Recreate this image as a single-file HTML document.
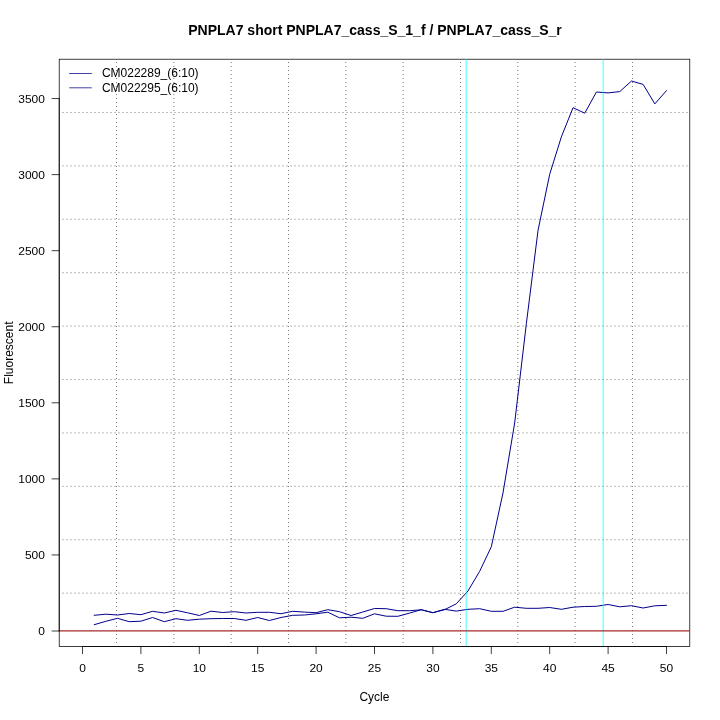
<!DOCTYPE html>
<html><head><meta charset="utf-8"><title>plot</title>
<style>
html,body{margin:0;padding:0;background:#fff;}
svg{display:block;will-change:transform}
text{font-family:"Liberation Sans",sans-serif;fill:#000}
</style></head><body>
<svg width="720" height="720" viewBox="0 0 720 720">
<rect width="720" height="720" fill="#fff"/>
<rect x="59.22" y="59.22" width="630.56" height="587.28" fill="none" stroke="#000" stroke-width="0.75"/>
<g stroke="#4a4a4a" stroke-width="0.75" stroke-dasharray="1 3" fill="none"><line x1="116.54" y1="59.04" x2="116.54" y2="646.56" stroke-dashoffset="1.04"/><line x1="173.87" y1="59.04" x2="173.87" y2="646.56" stroke-dashoffset="1.04"/><line x1="231.19" y1="59.04" x2="231.19" y2="646.56" stroke-dashoffset="1.04"/><line x1="288.51" y1="59.04" x2="288.51" y2="646.56" stroke-dashoffset="1.04"/><line x1="345.84" y1="59.04" x2="345.84" y2="646.56" stroke-dashoffset="1.04"/><line x1="403.16" y1="59.04" x2="403.16" y2="646.56" stroke-dashoffset="1.04"/><line x1="460.49" y1="59.04" x2="460.49" y2="646.56" stroke-dashoffset="1.04"/><line x1="517.81" y1="59.04" x2="517.81" y2="646.56" stroke-dashoffset="1.04"/><line x1="575.13" y1="59.04" x2="575.13" y2="646.56" stroke-dashoffset="1.04"/><line x1="632.46" y1="59.04" x2="632.46" y2="646.56" stroke-dashoffset="1.04"/><line x1="59.04" y1="112.45" x2="689.76" y2="112.45" stroke-dashoffset="0.54"/><line x1="59.04" y1="165.86" x2="689.76" y2="165.86" stroke-dashoffset="0.54"/><line x1="59.04" y1="219.27" x2="689.76" y2="219.27" stroke-dashoffset="0.54"/><line x1="59.04" y1="272.68" x2="689.76" y2="272.68" stroke-dashoffset="0.54"/><line x1="59.04" y1="326.09" x2="689.76" y2="326.09" stroke-dashoffset="0.54"/><line x1="59.04" y1="379.51" x2="689.76" y2="379.51" stroke-dashoffset="0.54"/><line x1="59.04" y1="432.92" x2="689.76" y2="432.92" stroke-dashoffset="0.54"/><line x1="59.04" y1="486.33" x2="689.76" y2="486.33" stroke-dashoffset="0.54"/><line x1="59.04" y1="539.74" x2="689.76" y2="539.74" stroke-dashoffset="0.54"/><line x1="59.04" y1="593.15" x2="689.76" y2="593.15" stroke-dashoffset="0.54"/></g>
<path d="M94.18,615.30 L105.86,614.20 L117.54,615.00 L129.22,613.50 L140.90,614.70 L152.58,611.30 L164.26,613.00 L175.94,610.30 L187.62,612.80 L199.30,615.50 L210.98,611.20 L222.66,612.50 L234.34,611.70 L246.02,613.00 L257.70,612.30 L269.38,612.30 L281.06,613.70 L292.74,611.30 L304.42,612.10 L316.10,612.70 L327.78,609.70 L339.46,611.70 L351.14,615.50 L362.82,612.00 L374.50,608.50 L386.18,608.70 L397.86,610.70 L409.54,610.70 L421.22,609.80 L432.90,612.70 L444.58,609.30 L456.26,611.10 L467.94,609.30 L479.62,608.70 L491.30,611.30 L502.98,611.30 L514.66,607.20 L526.34,608.30 L538.02,608.30 L549.70,607.50 L561.38,609.30 L573.06,607.20 L584.74,606.50 L596.42,606.30 L608.10,604.50 L619.78,606.80 L631.46,605.70 L643.14,608.00 L654.82,605.80 L666.50,605.30" fill="none" stroke="#00008B" stroke-width="1" stroke-linejoin="round" stroke-linecap="round"/>
<path d="M94.18,624.70 L105.86,621.30 L117.54,618.30 L129.22,621.70 L140.90,621.20 L152.58,617.50 L164.26,621.70 L175.94,618.70 L187.62,620.30 L199.30,619.20 L210.98,618.70 L222.66,618.50 L234.34,618.50 L246.02,620.30 L257.70,617.50 L269.38,620.50 L281.06,617.50 L292.74,615.30 L304.42,615.00 L316.10,613.80 L327.78,612.20 L339.46,617.80 L351.14,617.20 L362.82,618.30 L374.50,613.80 L386.18,616.20 L397.86,616.30 L409.54,613.10 L421.22,609.70 L432.90,612.70 L444.58,609.70 L456.26,603.80 L467.94,591.00 L479.62,571.40 L491.30,546.80 L502.98,493.00 L514.66,423.00 L526.34,323.80 L538.02,230.40 L549.70,174.30 L561.38,136.80 L573.06,107.70 L584.74,113.20 L596.42,92.00 L608.10,92.90 L619.78,91.60 L631.46,81.00 L643.14,84.40 L654.82,103.90 L666.50,90.60" fill="none" stroke="#00008B" stroke-width="1" stroke-linejoin="round" stroke-linecap="round"/>
<g stroke="#00FFFF" stroke-width="0.75"><line x1="466.15" y1="59.04" x2="466.15" y2="646.56"/><line x1="603.15" y1="59.04" x2="603.15" y2="646.56"/></g>
<line x1="58.64" y1="630.78" x2="689.76" y2="630.78" stroke="#A52A2A" stroke-width="1.2"/>
<g stroke="#000" stroke-width="0.75" fill="none" stroke-linecap="round"><line x1="82.5" y1="646.5" x2="666.50" y2="646.5"/><line x1="82.50" y1="646.5" x2="82.50" y2="653.70"/><line x1="140.90" y1="646.5" x2="140.90" y2="653.70"/><line x1="199.30" y1="646.5" x2="199.30" y2="653.70"/><line x1="257.70" y1="646.5" x2="257.70" y2="653.70"/><line x1="316.10" y1="646.5" x2="316.10" y2="653.70"/><line x1="374.50" y1="646.5" x2="374.50" y2="653.70"/><line x1="432.90" y1="646.5" x2="432.90" y2="653.70"/><line x1="491.30" y1="646.5" x2="491.30" y2="653.70"/><line x1="549.70" y1="646.5" x2="549.70" y2="653.70"/><line x1="608.10" y1="646.5" x2="608.10" y2="653.70"/><line x1="666.50" y1="646.5" x2="666.50" y2="653.70"/><line x1="59.22" y1="631.0" x2="59.22" y2="98.55"/><line x1="59.22" y1="631.00" x2="52.02" y2="631.00"/><line x1="59.22" y1="554.93" x2="52.02" y2="554.93"/><line x1="59.22" y1="478.87" x2="52.02" y2="478.87"/><line x1="59.22" y1="402.81" x2="52.02" y2="402.81"/><line x1="59.22" y1="326.74" x2="52.02" y2="326.74"/><line x1="59.22" y1="250.68" x2="52.02" y2="250.68"/><line x1="59.22" y1="174.61" x2="52.02" y2="174.61"/><line x1="59.22" y1="98.55" x2="52.02" y2="98.55"/></g>
<g font-size="12"><text transform="translate(82.50,672) scale(1,0.93)" text-anchor="middle">0</text><text transform="translate(140.90,672) scale(1,0.93)" text-anchor="middle">5</text><text transform="translate(199.30,672) scale(1,0.93)" text-anchor="middle">10</text><text transform="translate(257.70,672) scale(1,0.93)" text-anchor="middle">15</text><text transform="translate(316.10,672) scale(1,0.93)" text-anchor="middle">20</text><text transform="translate(374.50,672) scale(1,0.93)" text-anchor="middle">25</text><text transform="translate(432.90,672) scale(1,0.93)" text-anchor="middle">30</text><text transform="translate(491.30,672) scale(1,0.93)" text-anchor="middle">35</text><text transform="translate(549.70,672) scale(1,0.93)" text-anchor="middle">40</text><text transform="translate(608.10,672) scale(1,0.93)" text-anchor="middle">45</text><text transform="translate(666.50,672) scale(1,0.93)" text-anchor="middle">50</text><text transform="translate(44.9,635.25) scale(1,0.93)" text-anchor="end">0</text><text transform="translate(44.9,559.18) scale(1,0.93)" text-anchor="end">500</text><text transform="translate(44.9,483.12) scale(1,0.93)" text-anchor="end">1000</text><text transform="translate(44.9,407.06) scale(1,0.93)" text-anchor="end">1500</text><text transform="translate(44.9,330.99) scale(1,0.93)" text-anchor="end">2000</text><text transform="translate(44.9,254.93) scale(1,0.93)" text-anchor="end">2500</text><text transform="translate(44.9,178.86) scale(1,0.93)" text-anchor="end">3000</text><text transform="translate(44.9,102.80) scale(1,0.93)" text-anchor="end">3500</text><text x="374.4" y="700.6" text-anchor="middle">Cycle</text><text transform="translate(13,352.8) rotate(-90)" text-anchor="middle">Fluorescent</text><text x="101.9" y="77.4">CM022289_(6:10)</text><text x="101.9" y="91.8">CM022295_(6:10)</text></g>
<text x="375" y="35" text-anchor="middle" font-size="14" font-weight="bold">PNPLA7 short PNPLA7_cass_S_1_f / PNPLA7_cass_S_r</text>
<g stroke="#00008B" stroke-width="0.75"><line x1="69.2" y1="73.5" x2="91.8" y2="73.5"/><line x1="69.2" y1="87.8" x2="91.8" y2="87.8"/></g>
</svg></body></html>
